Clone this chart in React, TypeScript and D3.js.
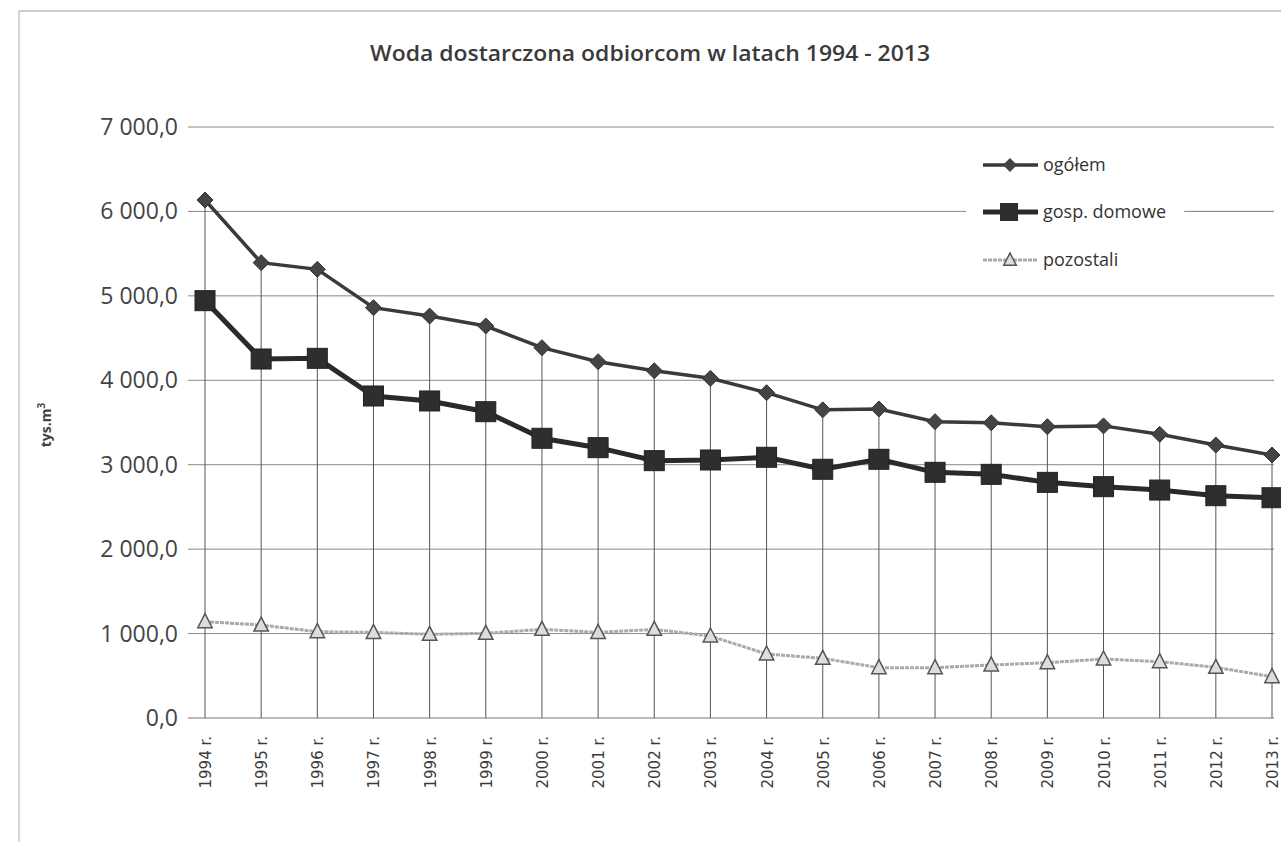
import React from "react";
import * as d3 from "d3";

const years = ["1994 r.","1995 r.","1996 r.","1997 r.","1998 r.","1999 r.","2000 r.","2001 r.","2002 r.","2003 r.","2004 r.","2005 r.","2006 r.","2007 r.","2008 r.","2009 r.","2010 r.","2011 r.","2012 r.","2013 r."];
const ogolem = [6135,5393,5314,4860,4761,4643,4386,4220,4113,4023,3853,3650,3660,3510,3497,3450,3460,3360,3233,3115];
const gospDomowe = [4943,4252,4260,3814,3755,3628,3313,3202,3048,3056,3088,2946,3064,2910,2886,2791,2740,2700,2633,2609];
const pozostali = [1141,1101,1022,1014,991,1003,1050,1014,1050,971,758,707,596,596,628,655,699,667,600,489];
const yTicks = [0,1000,2000,3000,4000,5000,6000,7000];
const legendLabels = ["ogółem","gosp. domowe","pozostali"];

const fmt = (v: number) => {
  const s = Math.round(v).toString();
  const withSpace = s.length > 3 ? s.slice(0, s.length - 3) + " " + s.slice(-3) : s;
  return withSpace + ",0";
};

export default function App() {
  const W = 1281, H = 842;
  const x = d3.scalePoint<string>().domain(years).range([205, 1272]);
  const y = d3.scaleLinear().domain([0, 7000]).range([718, 127]);
  const line = (vals: number[]) =>
    d3.line<number>().x((_, i) => x(years[i]) as number).y(v => y(v))(vals) || "";
  const font = "'Open Sans', sans-serif";

  const diamond = (cx: number, cy: number, r: number) =>
    `M${cx},${cy - r}L${cx + r},${cy}L${cx},${cy + r}L${cx - r},${cy}Z`;
  const triangle = (cx: number, cy: number, r: number) =>
    `M${cx},${cy - r}L${cx + r * 0.9},${cy + r * 0.75}L${cx - r * 0.9},${cy + r * 0.75}Z`;

  const legendY = [165, 212, 260];

  return (
    <svg width={W} height={H} style={{ position: "absolute", left: 0, top: 0, background: "#fff" }}>
      <rect x={0} y={0} width={W} height={H} fill="#ffffff" />
      {/* frame */}
      <line x1={19} y1={11} x2={1281} y2={11} stroke="#999" strokeWidth={1} />
      <line x1={19} y1={11} x2={19} y2={842} stroke="#aaa" strokeWidth={1} />

      {/* title */}
      <text x={650} y={61} textAnchor="middle" fontFamily={font} fontSize={22} fontWeight={600}
        fill="#3a3a3a" textLength={560} lengthAdjust="spacingAndGlyphs">
        Woda dostarczona odbiorcom w latach 1994 - 2013
      </text>

      {/* gridlines + y ticks */}
      {yTicks.map(t => (
        <g key={t}>
          <line x1={188} x2={1274} y1={y(t)} y2={y(t)} stroke={t === 0 ? "#777" : "#888"} strokeWidth={1} />
          <text x={178} y={y(t) + 8} textAnchor="end" fontFamily={font} fontSize={23} fill="#444">
            {fmt(t)}
          </text>
        </g>
      ))}

      {/* y axis title */}
      <text transform={`translate(51,425) rotate(-90)`} textAnchor="middle" fontFamily={font}
        fontSize={14} fontWeight={700} fill="#444">
        tys.m<tspan dy={-6} fontSize={10}>3</tspan>
      </text>

      {/* drop lines */}
      {years.map((yr, i) => {
        const top = Math.max(ogolem[i], gospDomowe[i], pozostali[i]);
        return (
          <line key={yr} x1={x(yr)} x2={x(yr)} y1={y(top)} y2={y(0)} stroke="#555" strokeWidth={1} />
        );
      })}

      {/* x labels */}
      {years.map(yr => (
        <text key={yr} transform={`translate(${(x(yr) as number) + 6},736) rotate(-90)`} textAnchor="end"
          fontFamily="'DejaVu Sans', sans-serif" fontSize={15} fill="#3a3a3a">
          {yr}
        </text>
      ))}

      {/* pozostali */}
      <path d={line(pozostali)} fill="none" stroke="#aaa" strokeWidth={3} strokeDasharray="4 1" />
      {pozostali.map((v, i) => (
        <path key={i} d={triangle(x(years[i]) as number, y(v), 8)} fill="#ddd" stroke="#555" strokeWidth={1.5} />
      ))}

      {/* gosp. domowe */}
      <path d={line(gospDomowe)} fill="none" stroke="#2a2a2a" strokeWidth={5} />
      {gospDomowe.map((v, i) => (
        <rect key={i} x={(x(years[i]) as number) - 10} y={y(v) - 10} width={20} height={20} fill="#2e2e2e" stroke="#222" />
      ))}

      {/* ogółem */}
      <path d={line(ogolem)} fill="none" stroke="#3a3a3a" strokeWidth={3.5} />
      {ogolem.map((v, i) => (
        <path key={i} d={diamond(x(years[i]) as number, y(v), 8)} fill="#444" stroke="#333" strokeWidth={1} />
      ))}

      {/* legend */}
      <rect x={966} y={143} width={218} height={137} fill="#fff" />
      <line x1={1190} x2={1274} y1={y(6000)} y2={y(6000)} stroke="#888" />
      <line x1={983} x2={1038} y1={legendY[0]} y2={legendY[0]} stroke="#3a3a3a" strokeWidth={3.5} />
      <path d={diamond(1010, legendY[0], 7)} fill="#444" />
      <line x1={983} x2={1038} y1={legendY[1]} y2={legendY[1]} stroke="#2a2a2a" strokeWidth={5} />
      <rect x={1000} y={legendY[1] - 9} width={18} height={18} fill="#2e2e2e" />
      <line x1={983} x2={1038} y1={legendY[2]} y2={legendY[2]} stroke="#aaa" strokeWidth={3} strokeDasharray="4 1" />
      <path d={triangle(1010, legendY[2], 7)} fill="#ddd" stroke="#555" strokeWidth={1.5} />
      {legendLabels.map((l, i) => (
        <text key={l} x={1043} y={legendY[i] + 6} fontFamily={font} fontSize={18} fill="#333">{l}</text>
      ))}
    </svg>
  );
}
